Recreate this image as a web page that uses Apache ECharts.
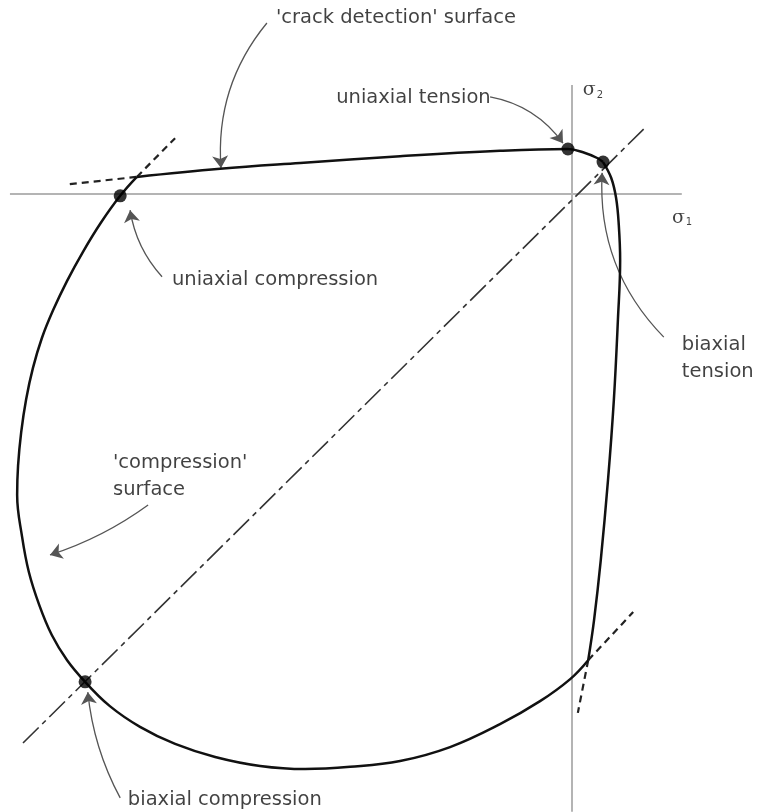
<!DOCTYPE html>
<html>
<head>
    <meta charset="UTF-8">
    <title>Failure surface in plane stress</title>
    <script src="https://cdn.jsdelivr.net/npm/echarts@6/dist/echarts.min.js"></script>
    <style>body{margin:0;background:#fff}</style>
</head>
<body>
    <div id="chart" style="width:757px; height:812px;"></div>
    <script>
        // stresses normalised so uniaxial compression is about -1 (sigma1, sigma2)
        var crackSurface = [[-0.967,0.038],[-0.782,0.056],[-0.604,0.069],[-0.382,0.084],[-0.160,0.096],
            [-0.009,0.100],[0.029,0.091],[0.056,0.080],[0.069,0.071]];
        var rightSide = [[0.069,0.071],[0.087,0.036],[0.098,-0.009],[0.104,-0.069],[0.107,-0.147],
            [0.102,-0.280],[0.093,-0.458],[0.080,-0.636],[0.064,-0.813],[0.049,-0.947],[0.036,-1.036]];
        var bottomSide = [[0.036,-1.036],[-0.004,-1.078],[-0.071,-1.127],[-0.160,-1.178],[-0.271,-1.229],
            [-0.382,-1.260],[-0.493,-1.273],[-0.593,-1.278],[-0.693,-1.271],[-0.793,-1.251],[-0.882,-1.222],
            [-0.960,-1.184],[-1.027,-1.138],[-1.082,-1.084]];
        var leftSide = [[-1.082,-1.084],[-1.122,-1.036],[-1.156,-0.980],[-1.184,-0.913],[-1.207,-0.840],
            [-1.222,-0.762],[-1.233,-0.669],[-1.231,-0.604],[-1.224,-0.529],[-1.213,-0.456],[-1.198,-0.387],
            [-1.178,-0.320],[-1.153,-0.258],[-1.122,-0.193],[-1.087,-0.129],[-1.047,-0.064],[-1.004,-0.004],
            [-0.967,0.038]];
        var tangents = [
            [[-1.116,0.022],[-0.967,0.038]],
            [[-0.967,0.038],[-0.882,0.124]],
            [[0.036,-1.036],[0.013,-1.153]],
            [[0.036,-1.036],[0.136,-0.929]]
        ];
        var diagonal = [[-1.220,-1.220],[0.165,0.150]];
        var axisH = [[-1.249,0],[0.244,0]];
        var axisV = [[0,0.242],[0,-1.373]];
        var keyPoints = [[-1.004,-0.004],[-0.009,0.100],[0.069,0.071],[-1.082,-1.084]];
        // [from, to, curveness]
        var arrows = [
            [[-0.678,0.380],[-0.780,0.058], -0.2],
            [[-0.182,0.216],[-0.020,0.113], 0.2],
            [[0.204,-0.318],[0.067,0.047], 0.22],
            [[-0.911,-0.184],[-0.982,-0.036], 0.15],
            [[-0.942,-0.691],[-1.160,-0.802], 0.08],
            [[-1.004,-1.342],[-1.076,-1.107], 0.1]
        ];
        var labels = [
            [-0.658,0.391,"'crack detection' surface"],
            [-0.524,0.213,'uniaxial tension'],
            [-0.889,-0.191,'uniaxial compression'],
            [0.244,-0.336,'biaxial'],
            [0.244,-0.396,'tension'],
            [-1.020,-0.598,"'compression'"],
            [-1.020,-0.658,'surface'],
            [-0.987,-1.347,'biaxial compression']
        ];
        var axisNames = [[0.024,0.231,'2'],[0.222,-0.053,'1']];

        var PX = 450, OX = 572, OY = 194, W = 757, H = 812;
        var chart = echarts.init(document.getElementById('chart'), null, {renderer: 'canvas'});

        function curve(data) {
            return {type: 'line', data: data, showSymbol: false, smooth: 0.4, silent: true,
                lineStyle: {color: '#111', width: 2.5}, z: 5};
        }
        function seg(data, type, width, color) {
            return {type: 'line', data: data, showSymbol: false, silent: true,
                lineStyle: {color: color, width: width, type: type}, z: 3};
        }

        var series = [
            seg(axisH, 'solid', 2, '#b4b4b4'),
            seg(axisV, 'solid', 2, '#b4b4b4'),
            seg(diagonal, [22, 5, 5, 5], 1.6, '#333'),
            curve(crackSurface), curve(rightSide), curve(bottomSide), curve(leftSide)
        ];
        tangents.forEach(function (t) { series.push(seg(t, [7, 5], 2.2, '#222')); });
        series.push({
            type: 'lines', coordinateSystem: 'cartesian2d', silent: true, z: 4,
            symbol: ['none', 'arrow'], symbolSize: [7, 12],
            data: arrows.map(function (a) {
                return {coords: [a[0], a[1]], lineStyle: {curveness: a[2]}};
            }),
            lineStyle: {color: '#555', width: 1.3, opacity: 1}
        });
        series.push({
            type: 'scatter', data: keyPoints, symbolSize: 13, silent: true, z: 6,
            itemStyle: {color: '#000'}
        });
        series.push({
            type: 'scatter', data: labels, symbolSize: 0, silent: true,
            label: {show: true, position: 'right', distance: 0, color: '#111',
                fontFamily: 'DejaVu Sans', fontSize: 19.5,
                formatter: function (p) { return p.data[2]; }}
        });
        series.push({
            type: 'scatter', data: axisNames, symbolSize: 0, silent: true,
            label: {show: true, position: 'right', distance: 0, color: '#111',
                formatter: function (p) { return '{s|σ}{b|' + p.data[2] + '}'; },
                rich: {s: {fontSize: 19, fontFamily: 'DejaVu Serif'},
                    b: {fontSize: 10, padding: [10, 0, 0, 1], fontFamily: 'DejaVu Sans'}}}
        });

        chart.setOption({
            animation: false,
            grid: {left: 0, right: 0, top: 0, bottom: 0},
            xAxis: {type: 'value', min: -OX / PX, max: (W - OX) / PX, show: false},
            yAxis: {type: 'value', min: (OY - H) / PX, max: OY / PX, show: false},
            series: series
        });
    </script>
</body>
</html>
